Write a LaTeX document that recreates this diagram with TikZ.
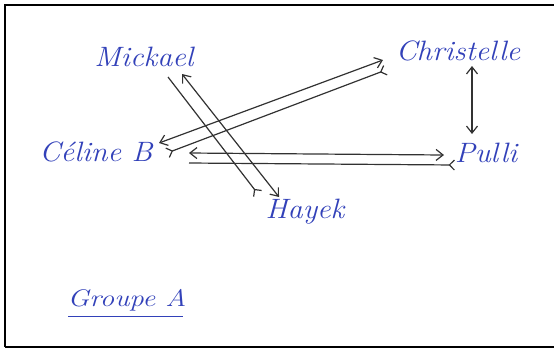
\documentclass[tikz,border=0pt]{standalone}
\usepackage{graphicx}
\usetikzlibrary{arrows.meta}
\definecolor{ink}{RGB}{50,65,185}
\definecolor{pencil}{RGB}{50,50,50}
\newcommand{\hand}[1]{\scalebox{1.08}[1]{\fontsize{28}{32}\selectfont\itshape #1}}
\tikzset{
  pupil/.style={inner sep=0pt, text=ink},
  link/.style={draw=pencil, line width=1.2pt},
  head/.style={-{Straight Barb[length=7pt,width=11pt]}},
  heads/.style={{Straight Barb[length=7pt,width=11pt]}-{Straight Barb[length=7pt,width=11pt]}},
  tail/.style={-{Straight Barb[length=5pt,width=10pt,reversed]}}
}
\begin{document}
\begin{tikzpicture}[x=1pt,y=-1pt]
    \useasboundingbox (0,0) rectangle (554,349);
    % frame
    \draw[line width=1.6pt] (5,347) -- (5,5) -- (554,5);
    \draw[line width=1.6pt] (5,347) -- (554,347);

    % pupils
    \node[pupil] (mickael) at (144,57) {\hand{Mickael}};
    \node[pupil] (christelle) at (458,51) {\hand{Christelle}};
    \node[pupil] (celine) at (96,152) {\hand{Céline B}};
    \node[pupil] (pulli) at (486,153) {\hand{Pulli}};
    \node[pupil] (hayek) at (305,212) {\hand{Hayek}};
    \node[pupil] (groupe) at (127,300) {\scalebox{1.2}[1]{\fontsize{24}{27}\selectfont\itshape Groupe A}};
    \draw[ink, line width=1pt] (68,316) -- (183,316);

    % line ends
    \coordinate (mA) at (168,77);  \coordinate (hA) at (258,194);
    \coordinate (mB) at (182,74);  \coordinate (hB) at (279,197);
    \coordinate (cA) at (159,143); \coordinate (kA) at (383,60);
    \coordinate (cB) at (167,153); \coordinate (kB) at (386,70);
    \coordinate (cC) at (189,153); \coordinate (pC) at (444,155);
    \coordinate (cD) at (189,163); \coordinate (pD) at (455,165);
    \coordinate (kE) at (472,66);  \coordinate (pE) at (472,134);

    % links
    \draw[link, tail] (mA) -- (hA);
    \draw[link, heads] (mB) -- (hB);
    \draw[link, heads] (cA) -- (kA);
    \draw[link, {Straight Barb[length=5pt,width=10pt,reversed]}-{Straight Barb[length=5pt,width=10pt,reversed]}] (cB) -- (kB);
    \draw[link, heads] (cC) -- (pC);
    \draw[link, tail] (cD) -- (pD);
    \draw[link, heads] (kE) -- (pE);
\end{tikzpicture}
\end{document}
